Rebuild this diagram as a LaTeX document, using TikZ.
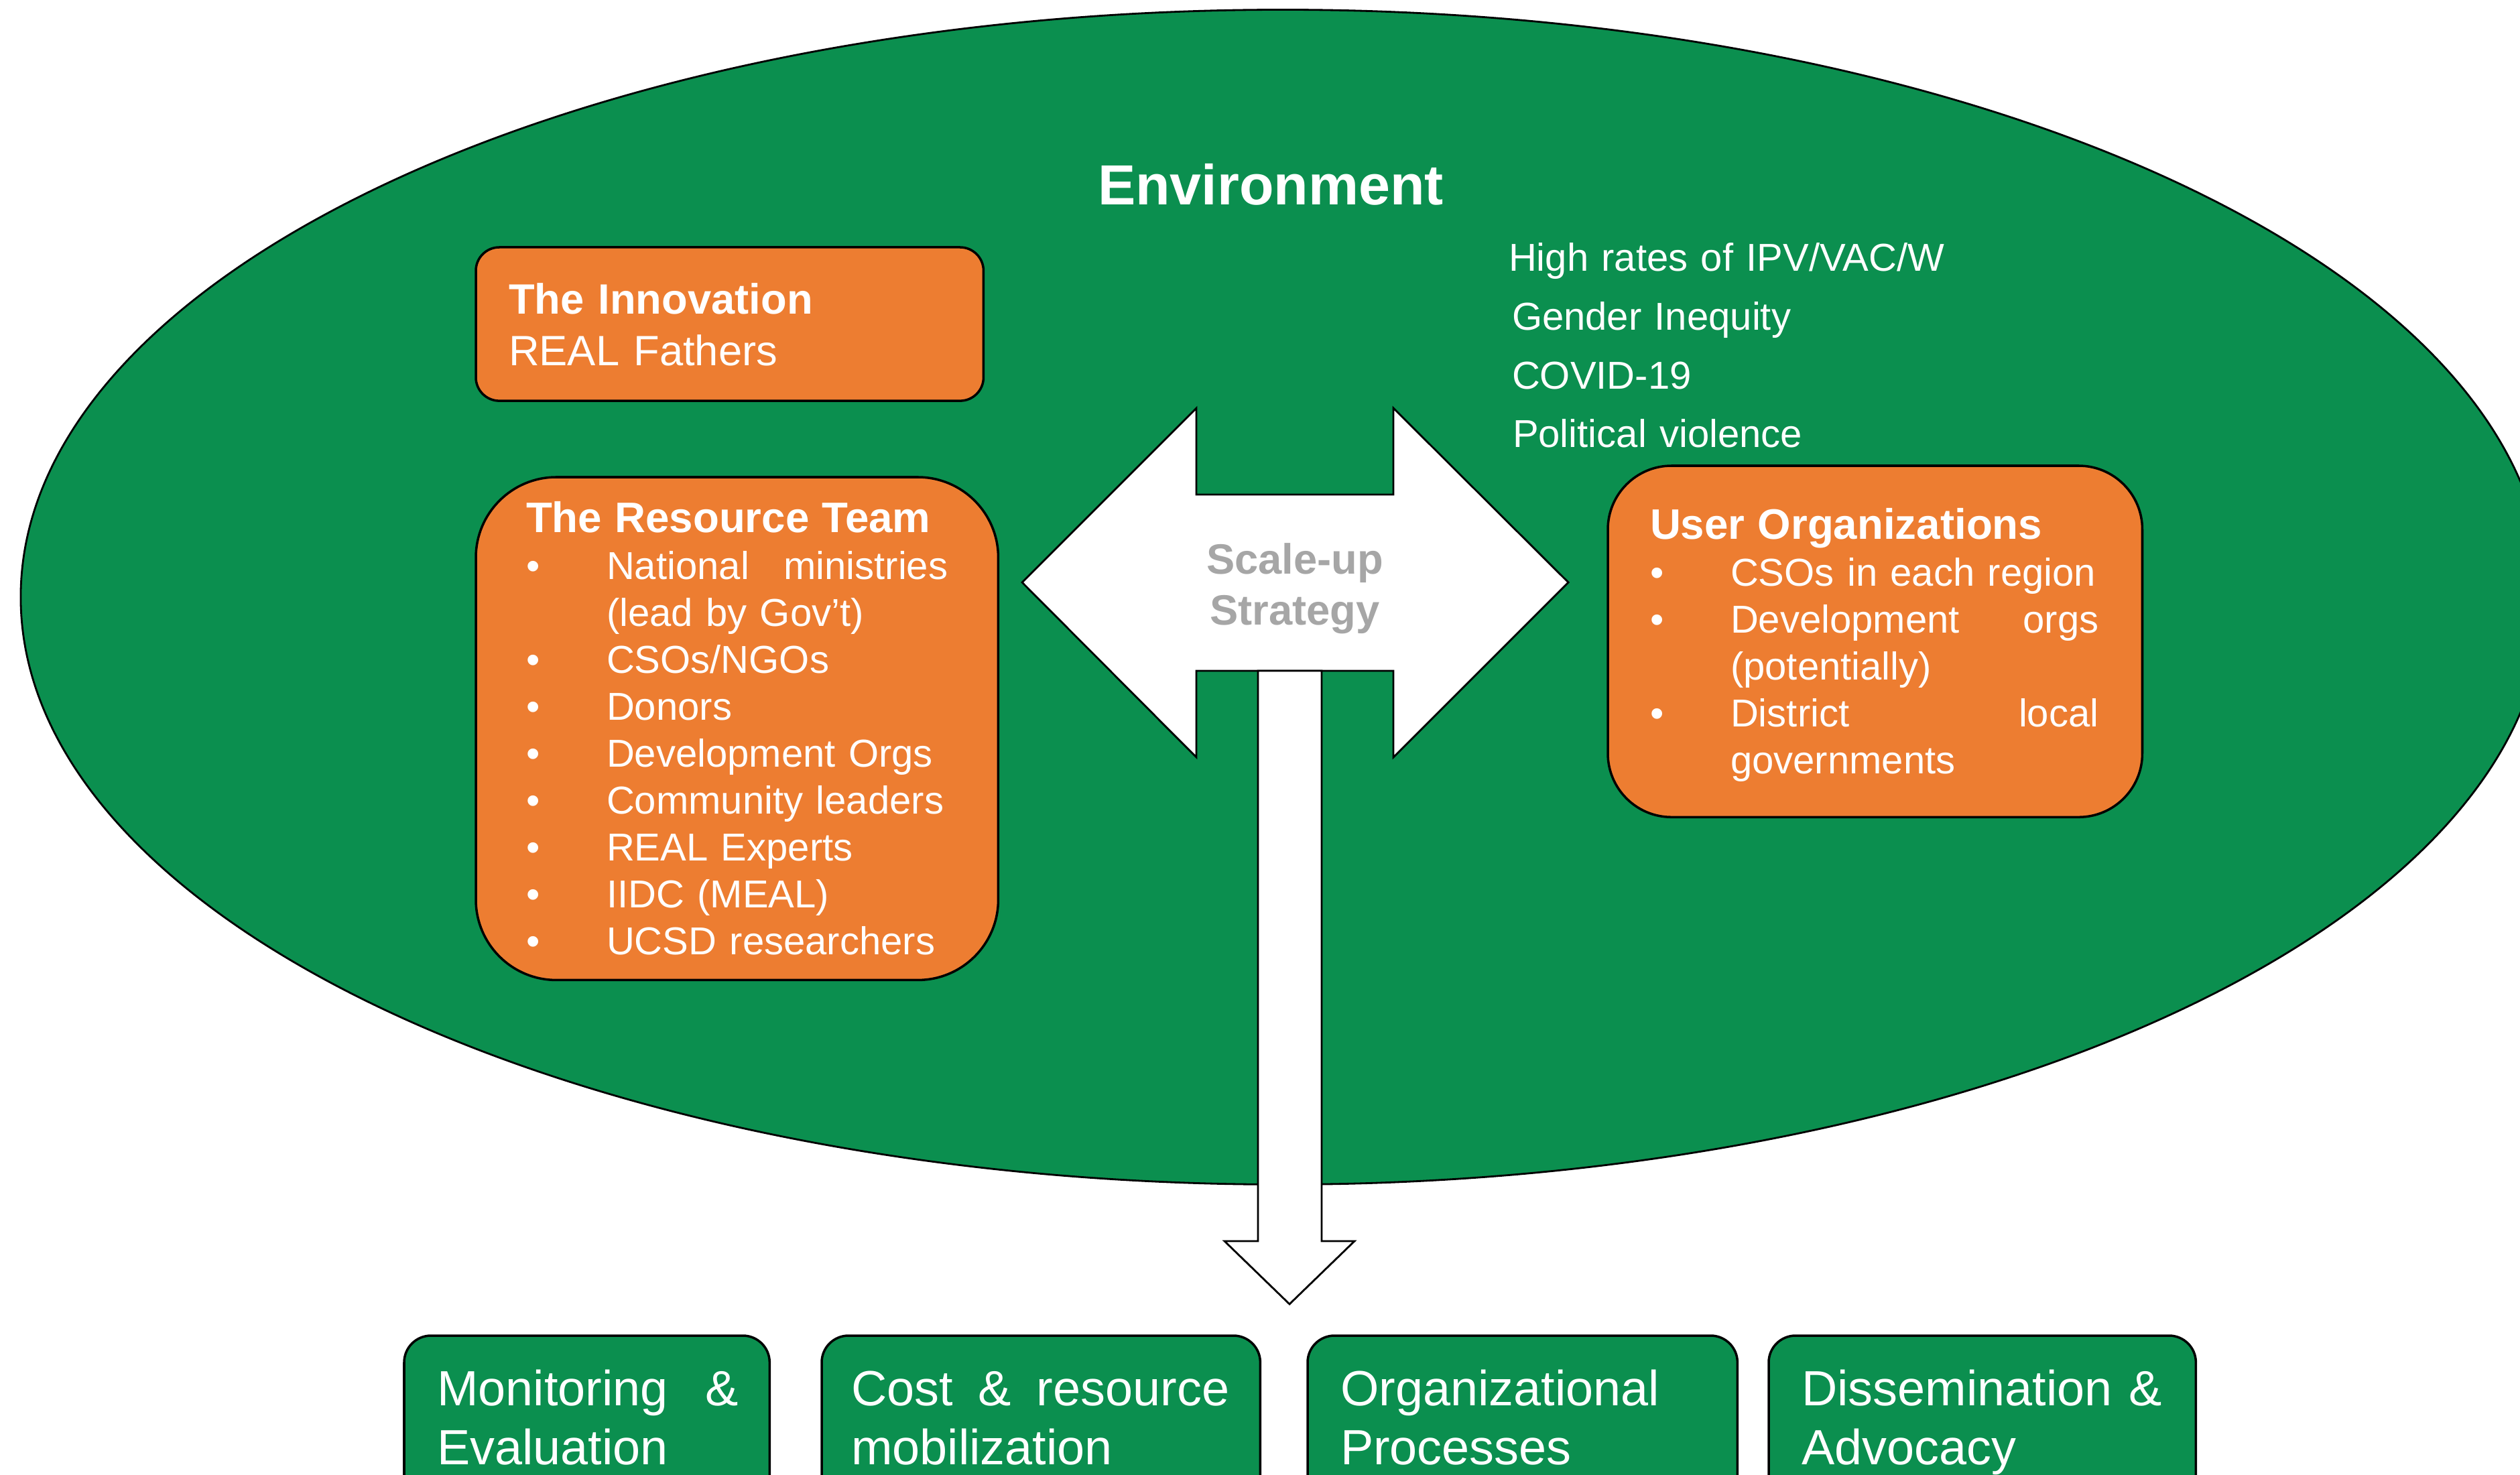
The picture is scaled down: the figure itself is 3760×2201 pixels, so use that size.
\documentclass[tikz,border=0pt]{standalone}
\usepackage{fontspec}
\setmainfont{Liberation Sans}
\usetikzlibrary{shapes.geometric}

\definecolor{envgreen}{RGB}{11,143,79}
\definecolor{boxorange}{RGB}{237,125,49}
\definecolor{stratgray}{RGB}{166,166,166}

\newcommand{\bul}{\makebox[1.2cm][l]{\textbullet}}
\newcommand{\hang}{\hspace*{1.2cm}}

\begin{document}
\begin{tikzpicture}
    [
    x=0.01cm, y=-0.01cm,
    every node/.style={inner sep=0pt, outer sep=0pt, text=white},
    envshape/.style={ellipse, draw=black, line width=0.8pt, fill=envgreen, minimum width=37.64cm, minimum height=17.52cm},
    orangebox/.style={rectangle, draw=black, line width=1pt, fill=boxorange, anchor=north west},
    greenbox/.style={rectangle, rounded corners=0.4cm, draw=black, line width=1pt, fill=envgreen, anchor=north west, minimum height=3cm},
    blockarrow/.style={draw=black, line width=0.8pt, fill=white, line join=miter},
    listtext/.style={anchor=base west, align=left, font=\fontsize{16.5}{19.9}\selectfont},
    headtext/.style={anchor=base west, align=left, font=\fontsize{18}{21.8}\selectfont},
    areatext/.style={anchor=base west, align=left, font=\fontsize{21}{25.2}\selectfont}
    ]

% Page
    \path[use as bounding box, fill=white] (0,0) rectangle (3760,2201);
    \clip (0,0) rectangle (3760,2201);

% Environment
    \node[envshape] (env) at (1914,891) {};
    \node[anchor=base, font=\fontsize{24}{28}\selectfont\bfseries] (envtitle) at (1896,306) {Environment};
    \node[anchor=base west, align=left, text width=7cm, font=\fontsize{16.5}{24.9}\selectfont] (factors) at (2251,405)
        {High rates of IPV/VAC/W\\\hspace*{0.05cm}Gender Inequity\\\hspace*{0.05cm}COVID-19\\\hspace*{0.06cm}Political violence};

% Innovation
    \node[orangebox, rounded corners=0.35cm, minimum width=7.57cm, minimum height=2.29cm] (innovation) at (710,369) {};
    \node[headtext, text width=6cm] (innovtext) at (759,469) {\textbf{The Innovation}\\REAL Fathers};

% Resource team
    \node[orangebox, rounded corners=1.2cm, minimum width=7.79cm, minimum height=7.5cm] (resource) at (710,712) {};
    \node[listtext, text width=6.29cm] (resourcetext) at (785,795) {%
        {\fontsize{18.1}{19.9}\selectfont\bfseries The Resource Team}\\
        \bul National\hfill ministries\\
        \hang(lead by Gov’t)\\
        \bul CSOs/NGOs\\
        \bul Donors\\
        \bul Development Orgs\\
        \bul Community leaders\\
        \bul REAL Experts\\
        \bul IIDC (MEAL)\\
        \bul UCSD researchers};

% User organizations
    \node[orangebox, rounded corners=0.95cm, minimum width=7.97cm, minimum height=5.24cm] (users) at (2399,695) {};
    \node[listtext, text width=6.69cm] (userstext) at (2462,805) {%
        {\fontsize{18.1}{19.9}\selectfont\bfseries User Organizations}\\
        \bul CSOs in each region\\
        \bul Development\hfill orgs\\
        \hang(potentially)\\
        \bul District\hfill local\\
        \hang governments};

% Scale-up arrows
    \draw[blockarrow] (1525,869) -- (1785,609) -- (1785,738) -- (2079,738) -- (2079,609) -- (2340,869)
        -- (2079,1130) -- (2079,1001) -- (1785,1001) -- (1785,1130) -- cycle;
    \draw[blockarrow] (1877,1001) -- (1972,1001) -- (1972,1852) -- (2021,1852) -- (1924,1946)
        -- (1827,1852) -- (1877,1852) -- cycle;
    \node[anchor=base, align=center, text width=4cm, text=stratgray, font=\fontsize{18}{21.6}\selectfont\bfseries] (strategy) at (1932,857)
        {Scale-up\\Strategy};

% Areas
    \node[greenbox, minimum width=5.45cm] (monitoring) at (603,1993) {};
    \node[greenbox, minimum width=6.54cm] (cost) at (1226,1993) {};
    \node[greenbox, minimum width=6.41cm] (processes) at (1951,1993) {};
    \node[greenbox, minimum width=6.37cm] (advocacy) at (2639,1993) {};
    \node[areatext, text width=4.5cm] (monitoringtext) at (652,2097) {Monitoring\hfill\&\\Evaluation};
    \node[areatext, text width=5.64cm] (costtext) at (1270,2097) {Cost\hfill\&\hfill resource\\mobilization};
    \node[areatext, text width=5.6cm] (processestext) at (2000,2097) {Organizational\\Processes};
    \node[areatext, text width=5.6cm] (advocacytext) at (2688,2097) {Dissemination \&\\Advocacy};

\end{tikzpicture}
\end{document}
